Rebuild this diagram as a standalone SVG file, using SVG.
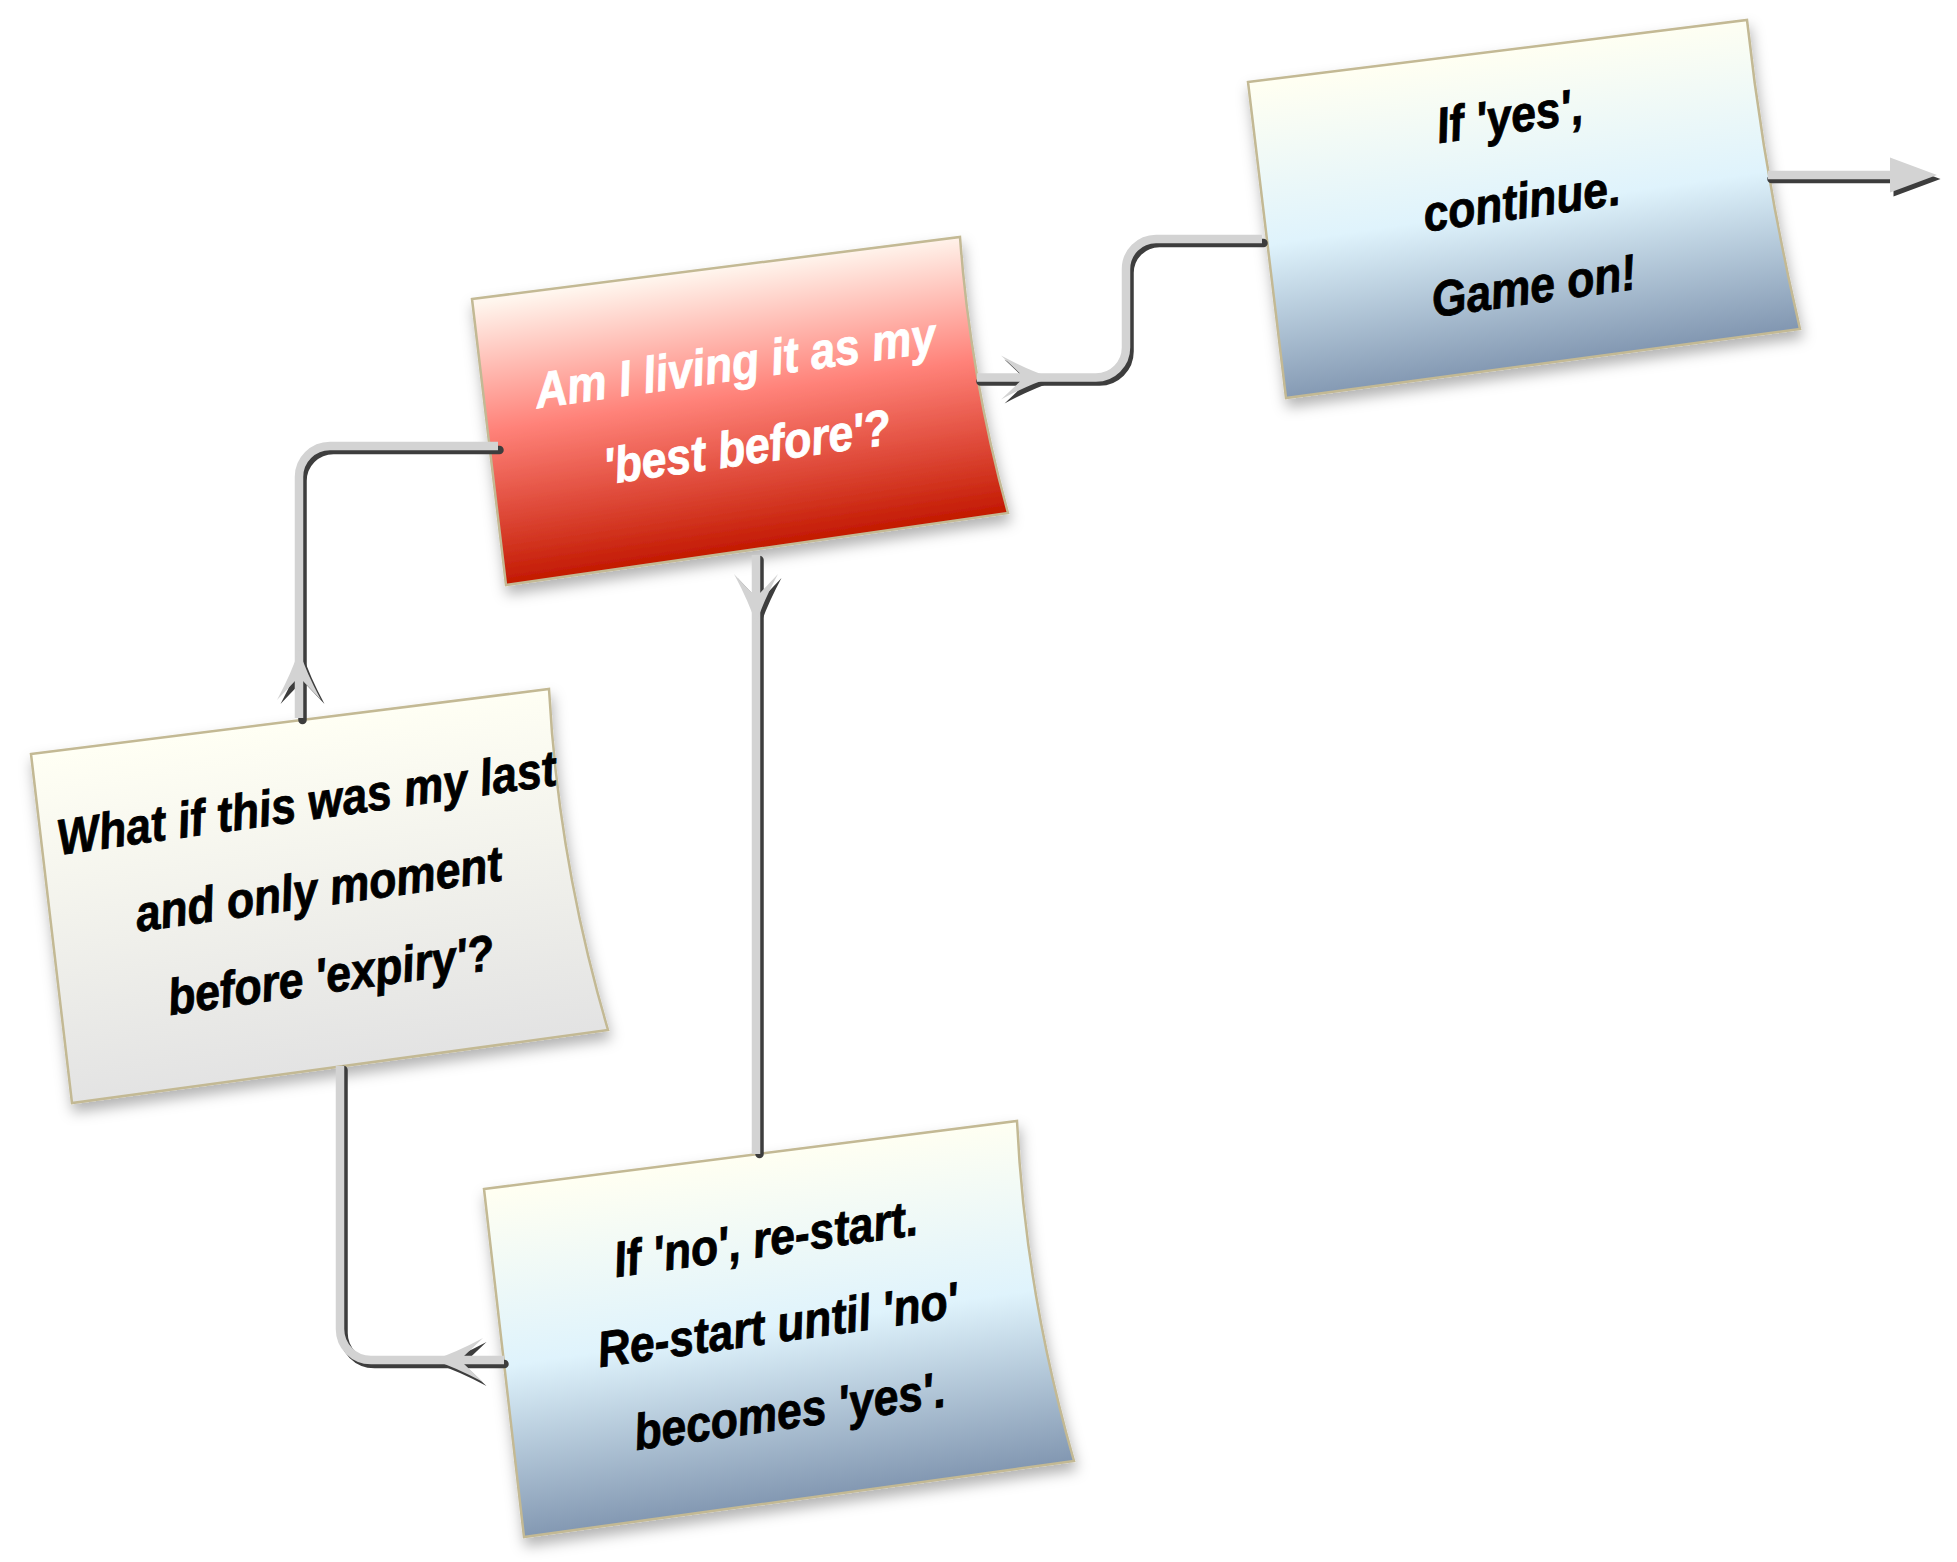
<svg xmlns="http://www.w3.org/2000/svg" xmlns:xlink="http://www.w3.org/1999/xlink" width="1957" height="1562" viewBox="0 0 1957 1562">
<style>
.box{stroke:#c3b994;stroke-width:2.5;filter:url(#shadow)}
.t{font-family:"Liberation Sans",Arial,Helvetica,sans-serif;font-weight:bold;font-style:italic;font-size:47.5px;text-anchor:middle;fill:#000;stroke:#000;stroke-width:0.8}
.tw{fill:#fff;stroke:#fff}
.cl{fill:none;stroke:#d3d3d3;stroke-width:8.5;stroke-linecap:butt;stroke-linejoin:round}
.cd{fill:none;stroke:#3d3d3d;stroke-width:8.5;stroke-linecap:round;stroke-linejoin:round}
.al{fill:#d3d3d3}
.ad{fill:#3d3d3d}
</style>
<defs>
<filter id="shadow" x="-10%" y="-10%" width="125%" height="130%">
<feDropShadow dx="2" dy="8" stdDeviation="7" flood-color="#000" flood-opacity="0.3"/>
</filter>
<linearGradient id="gRed" gradientUnits="userSpaceOnUse" x1="717" y1="268" x2="758" y2="550">
<stop offset="0" stop-color="#fff6ee"/>
<stop offset="0.45" stop-color="#ff8279"/>
<stop offset="1" stop-color="#c21800"/>
</linearGradient>
<linearGradient id="gYes" gradientUnits="userSpaceOnUse" x1="1497" y1="51" x2="1543" y2="364">
<stop offset="0" stop-color="#fffff2"/>
<stop offset="0.5" stop-color="#dff3fc"/>
<stop offset="1" stop-color="#8398b2"/>
</linearGradient>
<linearGradient id="gNo" gradientUnits="userSpaceOnUse" x1="750" y1="1155" x2="799" y2="1499">
<stop offset="0" stop-color="#fffff2"/>
<stop offset="0.5" stop-color="#dff3fc"/>
<stop offset="1" stop-color="#8398b2"/>
</linearGradient>
<linearGradient id="gWhat" gradientUnits="userSpaceOnUse" x1="290" y1="721" x2="340" y2="1066">
<stop offset="0" stop-color="#fffff4"/>
<stop offset="1" stop-color="#e3e3e3"/>
</linearGradient>
<path id="chev" d="M0,0 Q-22,-7 -50,-22 L-31,-4 L-31,4 L-50,22 Q-22,7 0,0 Z"/>
<path id="tri" d="M0,0 L-47,-17.5 L-47,17.5 Z"/>
</defs>
<rect width="1957" height="1562" fill="#fff"/>

<g id="node-red">
<path class="box" fill="url(#gRed)" d="M472,299 L960,237 Q970,375 1008,513 L506,585 Z"/>
<g transform="translate(743.5,422) rotate(-8) scale(0.94,1.06)">
<text class="t tw" x="0" y="-40">Am I living it as my</text>
<text class="t tw" x="0" y="40">'best before'?</text>
</g>
</g>

<g id="node-yes">
<path class="box" fill="url(#gYes)" d="M1248,82 L1747,20 Q1764,175 1800,329 L1286,398 Z"/>
<g transform="translate(1524,218) rotate(-8) scale(0.94,1.06)">
<text class="t" x="0" y="-81">If 'yes',</text>
<text class="t" x="0" y="0">continue.</text>
<text class="t" x="0" y="81">Game on!</text>
</g>
</g>

<g id="node-whatif">
<path class="box" fill="url(#gWhat)" d="M31,754 L549,689 Q558,860 608,1030 L72,1103 Z"/>
<g transform="translate(321,906) rotate(-8) scale(0.94,1.06)">
<text class="t" x="0" y="-82">What if this was my last</text>
<text class="t" x="0" y="0">and only moment</text>
<text class="t" x="0" y="82">before 'expiry'?</text>
</g>
</g>

<g id="node-no">
<path class="box" fill="url(#gNo)" d="M484,1189 L1017,1121 Q1025,1291 1074,1461 L524,1537 Z"/>
<g transform="translate(780,1342) rotate(-8) scale(0.94,1.06)">
<text class="t" x="0" y="-82">If 'no', re-start.</text>
<text class="t" x="0" y="0">Re-start until 'no'</text>
<text class="t" x="0" y="82">becomes 'yes'.</text>
</g>
</g>

<g id="connectors">
<g transform="translate(3.5,4)">
<path class="cd" d="M977,377.5 H1096 A30,30 0 0 0 1126,347.5 V269 A30,30 0 0 1 1156,239 H1260"/>
<path class="cd" d="M1768,175 H1892"/>
<path class="cd" d="M496,446 H330 A31,31 0 0 0 299,477 V716"/>
<path class="cd" d="M756,556 V1150"/>
<path class="cd" d="M340,1066 V1329 A31,31 0 0 0 371,1360 H501"/>
<use href="#chev" class="ad" transform="translate(1051,377.5)"/>
<use href="#tri" class="ad" transform="translate(1937,175)"/>
<use href="#chev" class="ad" transform="translate(299,650) rotate(-90)"/>
<use href="#chev" class="ad" transform="translate(756,624) rotate(90)"/>
<use href="#chev" class="ad" transform="translate(433,1360) rotate(180)"/>
</g>
<path class="cl" d="M977,377.5 H1096 A30,30 0 0 0 1126,347.5 V269 A30,30 0 0 1 1156,239 H1262"/>
<path class="cl" d="M1768,175 H1892"/>
<path class="cl" d="M498,446 H330 A31,31 0 0 0 299,477 V718"/>
<path class="cl" d="M756,555 V1154"/>
<path class="cl" d="M340,1066 V1329 A31,31 0 0 0 371,1360 H504"/>
<use href="#chev" class="al" transform="translate(1051,377.5)"/>
<use href="#tri" class="al" transform="translate(1937,175)"/>
<use href="#chev" class="al" transform="translate(299,650) rotate(-90)"/>
<use href="#chev" class="al" transform="translate(756,624) rotate(90)"/>
<use href="#chev" class="al" transform="translate(433,1360) rotate(180)"/>
</g>
</svg>
